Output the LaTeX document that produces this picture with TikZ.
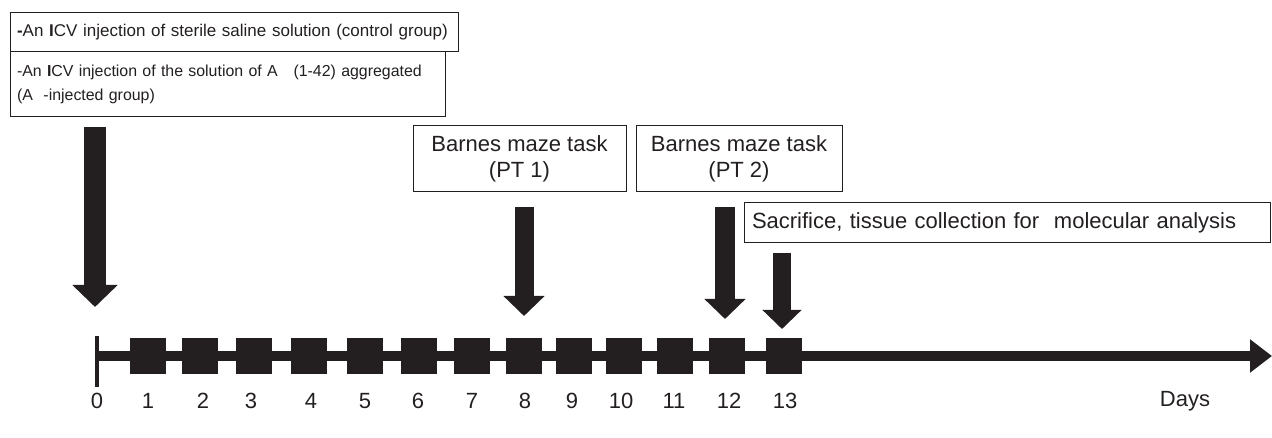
\documentclass[tikz,border=0pt]{standalone}
\usepackage{fontspec}
\setmainfont{Liberation Sans}
\usetikzlibrary{arrows.meta}
\definecolor{ink}{RGB}{35,31,32}
\begin{document}
\begin{tikzpicture}[x=1pt,y=-1pt,
  box/.style={draw=ink, line width=1pt, inner xsep=7pt, inner ysep=0pt, outer sep=0pt, anchor=north west, align=left, text=ink},
  cbox/.style={draw=ink, line width=1pt, inner sep=0pt, outer sep=0pt, anchor=north west, align=center, text=ink},
  day/.style={fill=ink, minimum size=36pt, inner sep=0pt, outer sep=0pt},
  lbl/.style={text=ink, inner sep=0pt, font=\fontsize{22}{26}\selectfont},
  bigarrow/.style={draw=ink, line width=#1, line cap=butt},
]
\useasboundingbox (0,0) rectangle (1272,438);

% top boxes
\node[box, minimum height=39pt, text width=434pt, font=\fontsize{17}{24}\selectfont] (ctrl) at (10,13)
  {\mbox{\textbf{-}An \textbf{I}CV injection of sterile saline solution (control group)}};
\node[box, minimum height=65pt, text width=421pt, font=\fontsize{15.9}{23.5}\selectfont] (abeta) at (10,52)
  {\mbox{-An \textbf{I}CV injection of the solution of A\ \ \ (1-42) aggregated}\\\mbox{(A\ \ -injected group)}};

\node[cbox, minimum width=213pt, minimum height=66pt, font=\fontsize{22}{26}\selectfont] (pt1) at (413,126)
  {Barnes maze task\\(PT 1)};
\node[cbox, minimum width=206pt, minimum height=66pt, font=\fontsize{22}{26}\selectfont] (pt2) at (636,126)
  {Barnes maze task\\(PT 2)};
\node[box, text width=510pt, minimum height=40pt, inner xsep=8pt, font=\fontsize{22}{26}\selectfont] (sac) at (744,203)
  {\mbox{Sacrifice, tissue collection for\ \ molecular analysis}};

% timeline
\coordinate (t0) at (97,356);
\coordinate (tend) at (1272,356);
\draw[ink, line width=10pt, -{Triangle[width=32pt,length=22pt]}] (t0) -- (tend);
\draw[ink, line width=4pt] (97,336) -- (97,387);

\foreach \i/\x in {1/148,2/200,3/254,4/309,5/365,6/419,7/472,8/524,9/574,10/624,11/675,12/727,13/784}
  \node[day] (d\i) at (\x,356) {};

% day labels
\foreach \t/\x in {0/97,1/148,2/203,3/251,4/311,5/365,6/418,7/472,8/525,9/572,10/621,11/674,12/729,13/785}
  \node[lbl] (l\t) at (\x,401) {\t};
\node[lbl] (ldays) at (1185,401) {Days};

% arrows
\coordinate (a0s) at (95,127);  \coordinate (a0e) at (95,307);
\coordinate (a8s) at (524,207); \coordinate (a8e) at (524,316);
\coordinate (a12s) at (725,207); \coordinate (a12e) at (725,319);
\coordinate (a13s) at (782,253); \coordinate (a13e) at (782,329);
\draw[bigarrow=22pt, -{Triangle[width=44pt,length=22pt]}, fill=ink] (a0s) -- (a0e);
\draw[bigarrow=19pt, -{Triangle[width=40pt,length=20pt]}, fill=ink] (a8s) -- (a8e);
\draw[bigarrow=20pt, -{Triangle[width=40pt,length=20pt]}, fill=ink] (a12s) -- (a12e);
\draw[bigarrow=18pt, -{Triangle[width=38pt,length=19pt]}, fill=ink] (a13s) -- (a13e);
\end{tikzpicture}
\end{document}
